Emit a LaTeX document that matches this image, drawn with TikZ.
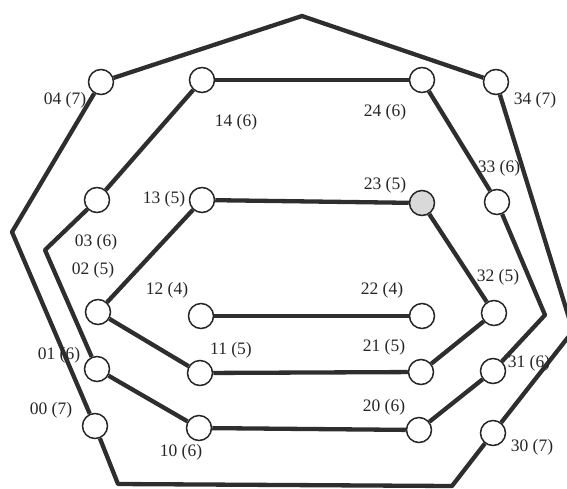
\documentclass[tikz,border=0pt]{standalone}
\usepackage{fontspec}
\setmainfont{Liberation Serif}
\begin{document}
\begin{tikzpicture}[x=1pt,y=-1pt,
  vtx/.style={circle,draw=black!85,line width=1.5pt,fill=white,minimum size=25pt,inner sep=0pt},
  shd/.style={vtx,fill=black!15},
  wire/.style={draw=black!82,line width=4.3pt,line join=round},
  lbl/.style={font=\fontsize{17.5}{20}\selectfont,text=black!85,inner sep=0pt}]
\useasboundingbox (0,0) rectangle (567,488);
% vertices
\node[vtx] (n04) at (101,82) {};
\node[vtx] (n14) at (202,80) {};
\node[vtx] (n24) at (422,80) {};
\node[vtx] (n34) at (496,82) {};
\node[vtx] (n03) at (97,200) {};
\node[vtx] (n13) at (202,200) {};
\node[shd] (n23) at (422,203) {};
\node[vtx] (n33) at (497,202) {};
\node[vtx] (n02) at (98,312) {};
\node[vtx] (n12) at (201,316) {};
\node[vtx] (n22) at (422,316) {};
\node[vtx] (n32) at (494,313) {};
\node[vtx] (n01) at (97,369) {};
\node[vtx] (n11) at (200,373) {};
\node[vtx] (n21) at (421,372) {};
\node[vtx] (n31) at (493,371) {};
\node[vtx] (n00) at (95,426) {};
\node[vtx] (n10) at (199,428) {};
\node[vtx] (n20) at (419,430) {};
\node[vtx] (n30) at (493,433) {};
% corner points
\coordinate (apex) at (302,16);
\coordinate (rv) at (573,331);
\coordinate (br) at (452,486);
\coordinate (bl) at (118,484);
\coordinate (lv) at (12,232);
\coordinate (mr) at (545,315);
\coordinate (ml) at (45,250);
% connectors
\path[wire] (n04) -- (apex) -- (n34);
\path[wire] (n34) -- (rv) -- (n30);
\path[wire] (n30) -- (br) -- (bl) -- (n00);
\path[wire] (n00) -- (lv) -- (n04);
\path[wire] (n14) -- (n24);
\path[wire] (n24) -- (n33);
\path[wire] (n33) -- (mr) -- (n31);
\path[wire] (n31) -- (n20);
\path[wire] (n20) -- (n10);
\path[wire] (n10) -- (n01);
\path[wire] (n01) -- (ml) -- (n03);
\path[wire] (n03) -- (n14);
\path[wire] (n13) -- (n23);
\path[wire] (n23) -- (n32);
\path[wire] (n32) -- (n21);
\path[wire] (n21) -- (n11);
\path[wire] (n11) -- (n02);
\path[wire] (n02) -- (n13);
\path[wire] (n12) -- (n22);
% labels
\node[lbl] (l04) at (65,100) {04 (7)};
\node[lbl] (l14) at (236,122) {14 (6)};
\node[lbl] (l24) at (385,112) {24 (6)};
\node[lbl] (l34) at (535,100) {34 (7)};
\node[lbl] (l03) at (96,242) {03 (6)};
\node[lbl] (l13) at (164,199) {13 (5)};
\node[lbl] (l23) at (385,185) {23 (5)};
\node[lbl] (l33) at (499,168) {33 (6)};
\node[lbl] (l02) at (93,270) {02 (5)};
\node[lbl] (l12) at (167,290) {12 (4)};
\node[lbl] (l22) at (382,290) {22 (4)};
\node[lbl] (l32) at (498,277) {32 (5)};
\node[lbl] (l01) at (59,355) {01 (6)};
\node[lbl] (l11) at (231,350) {11 (5)};
\node[lbl] (l21) at (384,347) {21 (5)};
\node[lbl] (l31) at (529,363) {31 (6)};
\node[lbl] (l00) at (51,410) {00 (7)};
\node[lbl] (l10) at (181,452) {10 (6)};
\node[lbl] (l20) at (384,407) {20 (6)};
\node[lbl] (l30) at (532,447) {30 (7)};
\end{tikzpicture}
\end{document}
